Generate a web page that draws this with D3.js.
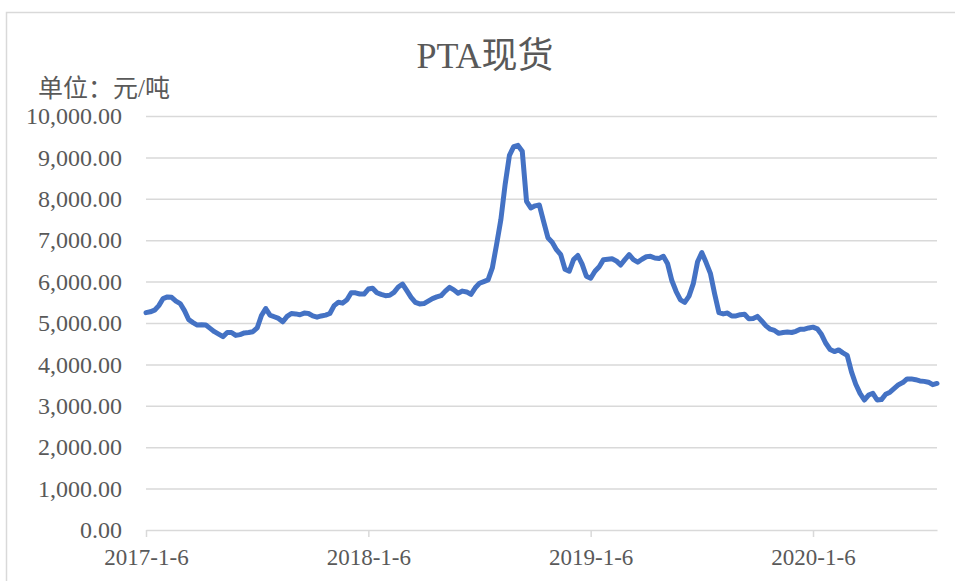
<!DOCTYPE html>
<html>
<head>
<meta charset="utf-8">
<script src="https://cdn.jsdelivr.net/npm/d3@7"></script>
<style>
  body { margin: 0; background: #fff; }
  svg text { font-family: "Liberation Serif", "Noto Sans CJK SC", serif; fill: #595959; }
</style>
</head>
<body>
<script>
// weekly PTA spot price, first week 2017-1-6
var prices = [
  5250, 5270, 5310, 5420, 5590, 5630, 5620, 5530, 5470, 5300,
  5080, 5010, 4950, 4960, 4950, 4870, 4790, 4730, 4670, 4770,
  4770, 4700, 4720, 4760, 4770, 4790, 4880, 5180, 5350, 5190,
  5150, 5110, 5030, 5160, 5230, 5220, 5200, 5240, 5230, 5170,
  5140, 5170, 5190, 5230, 5420, 5500, 5480, 5560, 5730, 5730,
  5700, 5700, 5820, 5840, 5730, 5690, 5660, 5670, 5740, 5870,
  5940, 5780, 5620, 5500, 5460, 5470, 5530, 5590, 5630, 5660,
  5770, 5860, 5800, 5720, 5770, 5750, 5690, 5850, 5960, 6000,
  6040, 6330, 6900, 7500, 8350, 9050, 9260, 9290, 9150, 7940,
  7780, 7830, 7850, 7450, 7060, 6950, 6770, 6650, 6300, 6250,
  6530, 6630, 6420, 6130, 6080, 6250, 6360, 6530, 6540, 6550,
  6500, 6400, 6530, 6650, 6530, 6470, 6540, 6600, 6610, 6570,
  6560, 6610, 6430, 6020, 5760, 5560, 5500, 5650, 5950, 6480,
  6700, 6460, 6200, 5700, 5250, 5220, 5240, 5170, 5170, 5200,
  5210, 5100, 5110, 5160, 5050, 4930, 4850, 4820, 4750, 4770,
  4780, 4770, 4800, 4850, 4850, 4880, 4900, 4860, 4720, 4510,
  4360, 4310, 4350, 4280, 4220, 3820, 3520, 3300, 3140, 3260,
  3300, 3140, 3150, 3280, 3330, 3420, 3510, 3560, 3650, 3650,
  3630, 3600, 3590, 3570, 3510, 3540
];
var tickIndex = [0, 52, 104, 156];
var tickLabels = ["2017-1-6", "2018-1-6", "2019-1-6", "2020-1-6"];
var yTicks = [0, 1000, 2000, 3000, 4000, 5000, 6000, 7000, 8000, 9000, 10000];

var width = 955, height = 581;
var margin = { top: 116, right: 18, bottom: 51, left: 146 };

var svg = d3.select("body").append("svg")
  .attr("width", width)
  .attr("height", height);

// outer chart frame
svg.append("rect")
  .attr("x", 6.5).attr("y", 12.5)
  .attr("width", 980).attr("height", 620)
  .attr("fill", "none")
  .attr("stroke", "#d9d9d9")
  .attr("stroke-width", 1.5);

var x = d3.scaleLinear()
  .domain([0, prices.length - 1])
  .range([margin.left, width - margin.right]);

var y = d3.scaleLinear()
  .domain([0, 10000])
  .range([height - margin.bottom, margin.top]);

// gridlines
svg.append("g")
  .attr("class", "grid")
  .attr("transform", "translate(" + margin.left + ",0)")
  .call(d3.axisRight(y).tickValues(yTicks.slice(1))
    .tickSize(width - margin.right - margin.left).tickFormat(""))
  .call(function (g) { g.select(".domain").remove(); })
  .selectAll("line")
  .attr("stroke", "#d9d9d9")
  .attr("stroke-width", 1.5);

// y labels
var yAxis = svg.append("g")
  .attr("transform", "translate(" + (margin.left - 24) + ",0)")
  .call(d3.axisLeft(y).tickValues(yTicks).tickSize(0)
    .tickFormat(function (d) { return d3.format(",.2f")(d); }));
yAxis.select(".domain").remove();
yAxis.selectAll("text")
  .attr("x", 0)
  .style("font-size", "24px")
  .style("font-family", "Liberation Serif");

// x axis
var xAxis = svg.append("g")
  .attr("transform", "translate(0," + y(0) + ")")
  .call(d3.axisBottom(x).tickValues(tickIndex).tickSizeOuter(0).tickSizeInner(7)
    .tickFormat(function (d, i) { return tickLabels[i]; }));
xAxis.select(".domain").attr("stroke", "#d9d9d9").attr("stroke-width", 1.5);
xAxis.selectAll("line").attr("stroke", "#d9d9d9").attr("stroke-width", 1.5);
xAxis.selectAll("text")
  .attr("y", 19)
  .style("font-size", "23px")
  .style("font-family", "Liberation Serif");

var line = d3.line()
  .x(function (d, i) { return x(i); })
  .y(function (d) { return y(d); });

svg.append("path")
  .datum(prices)
  .attr("d", line)
  .attr("fill", "none")
  .attr("stroke", "#4472c4")
  .attr("stroke-width", 5)
  .attr("stroke-linejoin", "round")
  .attr("stroke-linecap", "round");

// title and unit
svg.append("text")
  .attr("x", 485).attr("y", 68)
  .attr("text-anchor", "middle")
  .style("font-size", "36px")
  .text("PTA现货");

svg.append("text")
  .attr("x", 38).attr("y", 97)
  .style("font-size", "25px")
  .text("单位：元/吨");
</script>
</body>
</html>
